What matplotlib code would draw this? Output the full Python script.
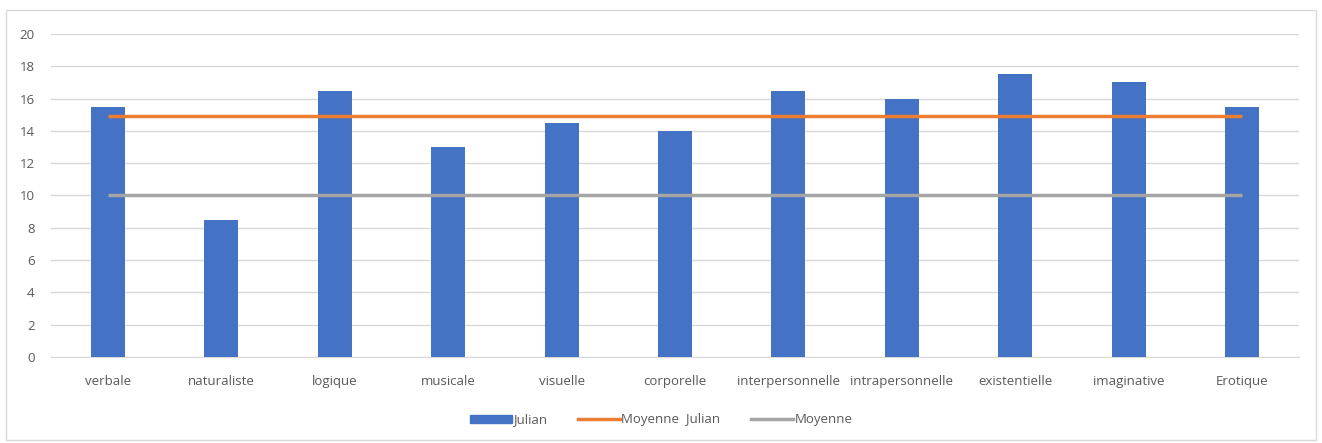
import matplotlib
matplotlib.use('Agg')
import matplotlib.pyplot as plt
from matplotlib.patches import Rectangle, Patch
from matplotlib.lines import Line2D

categories = ['verbale', 'naturaliste', 'logique', 'musicale', 'visuelle', 'corporelle',
              'interpersonnelle', 'intrapersonnelle', 'existentielle', 'imaginative', 'Erotique']
julian = [15.5, 8.5, 16.5, 13, 14.5, 14, 16.5, 16, 17.5, 17, 15.5]
moyenne_julian = [14.95] * 11
moyenne = [10] * 11
y_ticks = [0, 2, 4, 6, 8, 10, 12, 14, 16, 18, 20]

blue = '#4472C4'
orange = '#ED7D31'
grey = '#A5A5A5'
text_col = '#595959'

plt.rcParams['font.family'] = ['Open Sans', 'DejaVu Sans']

fig = plt.figure(figsize=(13.22, 4.43), dpi=100)
ax = fig.add_axes([0.0388, 0.1941, 0.9436, 0.7292])

x = list(range(len(categories)))
ax.bar(x, julian, width=0.3, color=blue, zorder=3)
ax.plot(x, moyenne_julian, color=orange, lw=2.5, zorder=4, solid_capstyle='butt')
ax.plot(x, moyenne, color=grey, lw=2.5, zorder=4, solid_capstyle='butt')

ax.set_xlim(-0.5, len(categories) - 0.5)
ax.set_ylim(0, 20)
ax.set_yticks(y_ticks)
ax.set_xticks(x)
ax.set_xticklabels(categories, fontsize=9.5, color=text_col)
ax.tick_params(axis='y', labelsize=9.5, labelcolor=text_col, length=0, pad=12)
ax.tick_params(axis='x', length=0, pad=13)
ax.grid(axis='y', color='#d9d9d9', lw=1, zorder=0)
for s in ['top', 'right', 'left']:
    ax.spines[s].set_visible(False)
ax.spines['bottom'].set_color('#d9d9d9')

# outer chart border
fig.patches.append(Rectangle((6 / 1322, 3 / 443), 1310 / 1322, 430 / 443, transform=fig.transFigure,
                             fill=False, edgecolor='#d9d9d9', lw=1))

handles = [Patch(color=blue), Line2D([], [], color=orange, lw=2.5), Line2D([], [], color=grey, lw=2.5)]
fig.legend(handles, ['Julian', 'Moyenne  Julian', 'Moyenne'], loc='center', bbox_to_anchor=(0.5, 0.052),
           ncol=3, frameon=False, fontsize=9.5, labelcolor=text_col, handlelength=3.2,
           handletextpad=0.1, columnspacing=2.3, handleheight=0.6)

fig.savefig('out.png', dpi=100)
